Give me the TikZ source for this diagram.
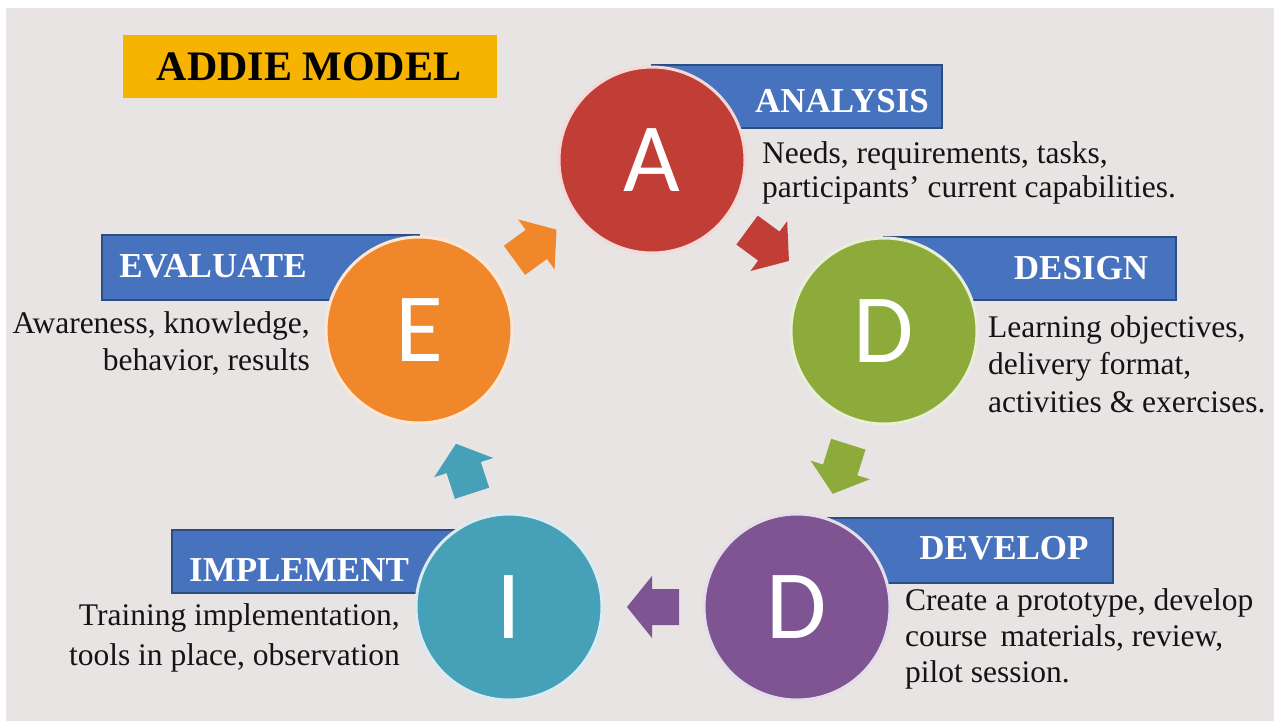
\documentclass[tikz,border=0pt]{standalone}
\usepackage{fontspec}
\setmainfont{Liberation Serif}
\newfontfamily\letterfont{Carlito}
\usetikzlibrary{calc}
\definecolor{bg}{RGB}{231,228,227}
\definecolor{acol}{RGB}{193,62,55}
\definecolor{dgcol}{RGB}{141,171,58}
\definecolor{dpcol}{RGB}{126,84,146}
\definecolor{icol}{RGB}{70,160,184}
\definecolor{ecol}{RGB}{240,135,43}
\definecolor{bannerfill}{RGB}{70,114,190}
\definecolor{bannerdraw}{RGB}{44,76,132}
\definecolor{titlefill}{RGB}{246,180,0}
\tikzset{
  phase/.style={circle, minimum size=186, inner sep=0, line width=3pt, fill=#1, draw=white!80!#1,
    text=white, font=\letterfont\fontsize{98}{98}\selectfont},
  banner/.style={fill=bannerfill, draw=bannerdraw, line width=2pt},
  bannertext/.style={text=white, inner sep=0, font=\bfseries\fontsize{35}{40}\selectfont},
  desc/.style={inner sep=0, text=black!92, font=\fontsize{31.5}{#1}\selectfont},
  blockarr/.pic={\fill[#1] (-26,-18) -- (1,-18) -- (1,-31) -- (26,0) -- (1,31) -- (1,18) -- (-26,18) -- cycle;}
}
\begin{document}
\begin{tikzpicture}[x=1pt,y=-1pt]
\fill[white] (0,0) rectangle (1274,721);
\fill[bg] (6,8) rectangle (1274,721);
\useasboundingbox (0,0) rectangle (1274,721);

% title
\fill[titlefill] (123,35) rectangle (497,98);
\node[inner sep=0, font=\bfseries\fontsize{42}{46}\selectfont] (title) at (309,67) {ADDIE MODEL};

% banners
\draw[banner] (652,65) rectangle (942,128);
\draw[banner] (884,237) rectangle (1176,300);
\draw[banner] (797,518) rectangle (1113,583);
\draw[banner] (172,530) rectangle (509,593);
\draw[banner] (102,235) rectangle (419,300);

% circles
\node[phase=acol] (A) at (652,160) {A};
\node[phase=dgcol] (Dg) at (884,331) {D};
\node[phase=dpcol] (Dp) at (797,607) {D};
\node[phase=icol] (I) at (509,607) {I};
\node[phase=ecol] (E) at (419,330) {E};

% banner labels
\node[bannertext] (la) at (842,101) {ANALYSIS};
\node[bannertext] (ld) at (1081,268) {DESIGN};
\node[bannertext] (ldv) at (1004,548) {DEVELOP};
\node[bannertext] (li) at (299,570) {IMPLEMENT};
\node[bannertext] (le) at (213,266) {EVALUATE};

% descriptions (anchor = baseline of the last line)
\node[desc=34, anchor=base west, align=left] (da) at (762,197)
  {Needs, requirements, tasks,\\participants’ current capabilities.};
\node[desc=37.5, anchor=base west, align=left] (dd) at (988,412)
  {Learning objectives,\\delivery format,\\activities \& exercises.};
\node[desc=36, anchor=base west, align=left] (ddv) at (905,682)
  {Create a prototype, develop\\course\, materials, review,\\pilot session.};
\node[desc=40, anchor=base east, align=right] (di) at (400,665)
  {Training implementation,\\tools in place, observation};
\node[desc=37, anchor=base east, align=right] (de) at (310,370)
  {Awareness, knowledge,\\behavior, results};

% cycle arrows
\path (E.center) -- (A.center) pic[pos=0.5, sloped, allow upside down] {blockarr=ecol};
\path (A.center) -- (Dg.center) pic[pos=0.5, sloped, allow upside down] {blockarr=acol};
\path (Dg.center) -- (Dp.center) pic[pos=0.5, sloped, allow upside down] {blockarr=dgcol};
\path (Dp.center) -- (I.center) pic[pos=0.5, sloped, allow upside down] {blockarr=dpcol};
\path (I.center) -- (E.center) pic[pos=0.5, sloped, allow upside down] {blockarr=icol};
\end{tikzpicture}
\end{document}
